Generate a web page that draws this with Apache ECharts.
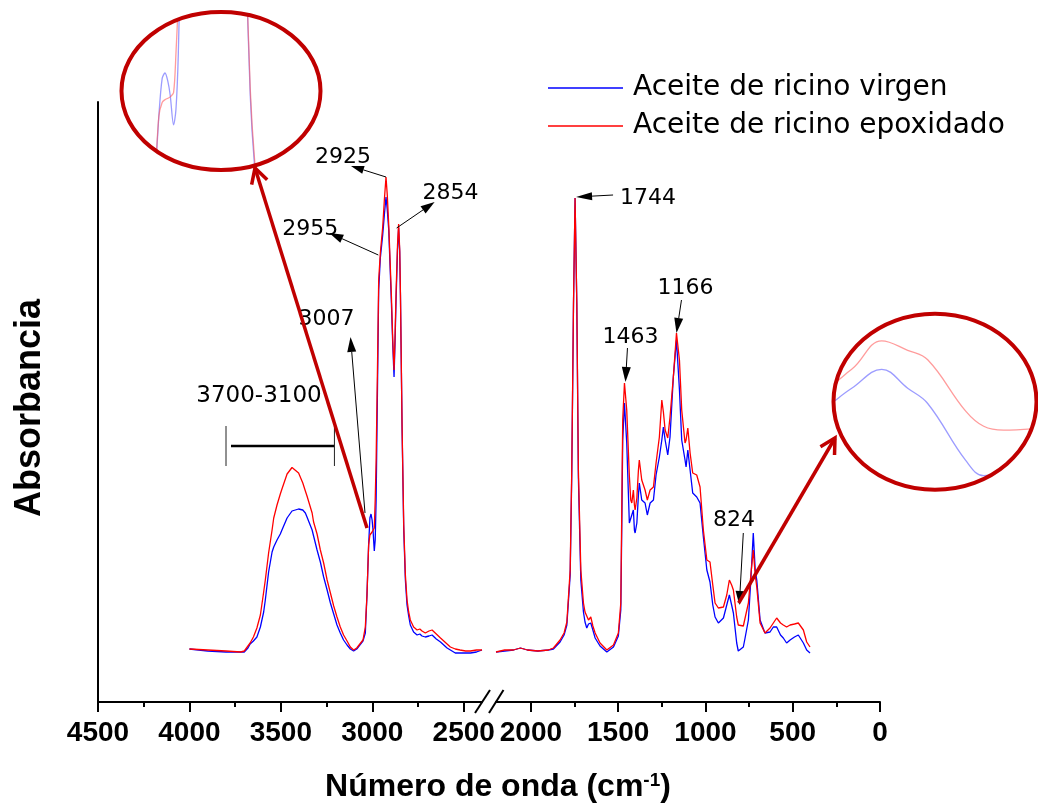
<!DOCTYPE html>
<html><head><meta charset="utf-8">
<script src="https://cdn.jsdelivr.net/npm/echarts@6/dist/echarts.min.js"></script>
<style>html,body{margin:0;padding:0;background:#fff}#main{width:1038px;height:809px}</style>
</head><body><div id="main"></div>
<script>
// ---------------- DATA ----------------
const seriesNames = ['Aceite de ricino virgen', 'Aceite de ricino epoxidado'];

const leftWn = [4000,3900,3800,3720,3700,3680,3668,3650,3631,3612,3594,3585,3567,3548,3539,3521,3503,3494,3466,3439,3430,3403,3380,3366,3357,3329,3321,3302,3284,3266,3247,3229,3211,3193,3175,3157,3138,3120,3102,3085,3075,3051,3038,3029,3020,3013,3007,3001,2996,2989,2984,2979,2971,2965,2956,2943,2934,2925,2918,2910,2896,2888,2881,2876,2870,2862,2856,2850,2846,2837,2828,2819,2810,2801,2792,2774,2755,2740,2728,2710,2690,2673,2650,2627,2591,2573,2546,2520,2490,2463,2430,2400];
const leftVirgen = [0.106,0.102,0.100,0.100,0.100,0.108,0.116,0.122,0.130,0.150,0.180,0.204,0.260,0.300,0.310,0.324,0.336,0.344,0.368,0.382,0.384,0.386,0.384,0.378,0.370,0.344,0.332,0.304,0.280,0.250,0.224,0.198,0.176,0.154,0.138,0.124,0.114,0.106,0.102,0.106,0.110,0.122,0.138,0.214,0.314,0.368,0.376,0.364,0.344,0.302,0.324,0.404,0.644,0.824,0.888,0.934,0.974,1.010,0.984,0.944,0.804,0.714,0.650,0.714,0.804,0.904,0.948,0.900,0.814,0.544,0.344,0.244,0.194,0.172,0.154,0.140,0.134,0.136,0.132,0.130,0.132,0.134,0.126,0.120,0.108,0.104,0.098,0.098,0.098,0.098,0.100,0.104];
const leftEpox = [0.106,0.104,0.102,0.100,0.102,0.112,0.118,0.130,0.148,0.174,0.220,0.244,0.298,0.344,0.368,0.394,0.416,0.426,0.456,0.469,0.468,0.458,0.438,0.422,0.412,0.378,0.360,0.336,0.304,0.278,0.244,0.218,0.192,0.170,0.150,0.134,0.122,0.110,0.104,0.108,0.112,0.124,0.150,0.214,0.314,0.334,0.338,0.340,0.342,0.348,0.404,0.484,0.684,0.844,0.898,0.950,1.004,1.050,1.014,0.954,0.818,0.724,0.664,0.724,0.818,0.914,0.956,0.904,0.818,0.550,0.354,0.254,0.204,0.180,0.164,0.150,0.144,0.146,0.142,0.138,0.142,0.144,0.136,0.128,0.116,0.110,0.106,0.104,0.102,0.102,0.104,0.104];

const rightWn = [2200,2150,2100,2060,2020,1960,1900,1871,1833,1810,1794,1775,1766,1756,1747,1737,1728,1714,1699,1690,1680,1670,1657,1645,1632,1604,1565,1527,1499,1485,1479,1474,1464,1451,1436,1428,1422,1413,1407,1403,1393,1384,1379,1365,1346,1333,1317,1298,1283,1264,1250,1241,1231,1216,1203,1184,1166,1149,1136,1117,1111,1101,1088,1073,1050,1031,1012,992,974,958,945,926,897,878,863,850,840,821,812,802,783,773,754,740,726,715,706,687,659,630,611,592,570,554,535,515,490,468,458,439,420,401];
const rightVirgen = [0.100,0.102,0.104,0.108,0.104,0.102,0.104,0.106,0.120,0.134,0.154,0.254,0.454,0.794,1.008,0.794,0.448,0.244,0.180,0.160,0.148,0.156,0.158,0.144,0.128,0.112,0.100,0.110,0.132,0.184,0.364,0.524,0.598,0.518,0.358,0.354,0.374,0.384,0.344,0.338,0.358,0.414,0.438,0.404,0.398,0.374,0.398,0.404,0.454,0.490,0.524,0.550,0.524,0.494,0.530,0.650,0.724,0.624,0.524,0.484,0.470,0.504,0.464,0.418,0.410,0.398,0.330,0.264,0.240,0.194,0.170,0.158,0.168,0.194,0.214,0.194,0.178,0.118,0.102,0.104,0.110,0.128,0.164,0.244,0.338,0.264,0.244,0.164,0.138,0.140,0.150,0.150,0.134,0.128,0.118,0.124,0.130,0.134,0.130,0.118,0.104,0.098];
const rightEpox = [0.100,0.104,0.104,0.108,0.104,0.102,0.104,0.108,0.124,0.138,0.160,0.264,0.464,0.798,1.008,0.798,0.464,0.264,0.198,0.180,0.172,0.164,0.170,0.152,0.138,0.118,0.104,0.114,0.138,0.198,0.398,0.564,0.638,0.584,0.452,0.404,0.398,0.424,0.394,0.384,0.408,0.464,0.484,0.444,0.424,0.404,0.424,0.430,0.478,0.530,0.604,0.580,0.544,0.528,0.570,0.650,0.738,0.684,0.584,0.518,0.524,0.548,0.498,0.458,0.454,0.430,0.344,0.284,0.280,0.234,0.198,0.188,0.190,0.214,0.244,0.234,0.224,0.170,0.154,0.150,0.152,0.154,0.198,0.254,0.304,0.254,0.230,0.158,0.138,0.148,0.158,0.168,0.158,0.154,0.150,0.154,0.156,0.158,0.158,0.144,0.120,0.110];

const leftTicks = [4500, 4000, 3500, 3000, 2500];
const leftMinorTicks = [4250, 3750, 3250, 2750];
const rightTicks = [2000, 1500, 1000, 500, 0];
const rightMinorTicks = [1750, 1250, 750, 250];
const rangeLabel = '3700-3100';

// ---------------- CHART ----------------
const BLUE = '#0000FF', RED = '#FF0000', DARKRED = '#C00000';
const mk = (wn, v) => wn.map((w, i) => [w, v[i]]);
const valAt = (wn, v, w) => v[wn.indexOf(w)];

// zoom-callout ellipses (decoration layout)
const E1 = {cx: 221, cy: 91, rx: 99.5, ry: 79};
const E2 = {cx: 935, cy: 401.7, rx: 101.5, ry: 88};

const tickLabelStyle = {color: '#000', fontSize: 28, fontWeight: 'bold', fontFamily: 'Liberation Sans, Arial, sans-serif', margin: 17, formatter: v => String(v)};
const mainX = (grid, min, max, ticks) => ({
  gridIndex: grid, type: 'value', inverse: true, min: min, max: max, position: 'bottom',
  axisLine: {show: true, onZero: false, lineStyle: {color: '#000', width: 2}},
  axisTick: {show: true, customValues: ticks, length: 10, lineStyle: {color: '#000', width: 2}},
  axisLabel: Object.assign({customValues: ticks}, tickLabelStyle),
  splitLine: {show: false}
});
const minorX = (grid, min, max, ticks) => ({
  gridIndex: grid, type: 'value', inverse: true, min: min, max: max, position: 'bottom',
  axisLine: {show: false},
  axisTick: {show: true, customValues: ticks, length: 5, lineStyle: {color: '#000', width: 2}},
  axisLabel: {show: false}, splitLine: {show: false}
});
const hiddenAxis = (grid, min, max, inv) => ({gridIndex: grid, type: 'value', min: min, max: max, inverse: !!inv, show: false, splitLine: {show: false}});

const xAxis0 = mainX(0, 2400, 4500, leftTicks);
Object.assign(xAxis0, {
  name: 'Número de onda (cm{sup|-1})', nameLocation: 'middle', nameGap: 69,
  nameTextStyle: {
    color: '#000', fontSize: 32, fontWeight: 'bold', fontFamily: 'Liberation Sans, Arial, sans-serif',
    padding: [0, 0, 0, 416],
    rich: {sup: {fontSize: 19, fontWeight: 'bold', fontFamily: 'Liberation Sans, Arial, sans-serif', color: '#000', verticalAlign: 'top', padding: [0, 0, 14, 0]}}
  }
});

const lineSeries = (name, xi, yi, data, color, width, extra) => Object.assign({
  name: name, type: 'line', xAxisIndex: xi, yAxisIndex: yi, data: data,
  showSymbol: false, symbol: 'none', color: color, clip: true,
  lineStyle: {width: width, color: color}, emphasis: {disabled: true}
}, extra || {});

const option = {
  animation: false,
  backgroundColor: '#ffffff',
  legend: {
    data: seriesNames, orient: 'vertical', left: 548, top: 74, padding: 0,
    icon: 'rect', itemWidth: 75, itemHeight: 1.5, itemGap: 10,
    textStyle: {color: '#000', fontSize: 28, fontFamily: 'DejaVu Sans, sans-serif', padding: [0, 0, 0, 5]}
  },
  grid: [
    {left: 98, top: 102, width: 384, height: 600},
    {left: 496, top: 102, width: 384, height: 600},
    {left: 121, top: 12, width: 200, height: 158},
    {left: 833, top: 313, width: 204, height: 177}
  ],
  xAxis: [
    xAxis0,
    minorX(0, 2400, 4500, leftMinorTicks),
    mainX(1, 0, 2200, rightTicks),
    minorX(1, 0, 2200, rightMinorTicks),
    hiddenAxis(2, 2679.4, 3099.4, true),
    hiddenAxis(3, 785.35, 887.35, true)
  ],
  yAxis: [
    {gridIndex: 0, type: 'value', min: 0, max: 1.2,
     axisLine: {show: true, onZero: false, lineStyle: {color: '#000', width: 2}},
     axisTick: {show: false}, axisLabel: {show: false}, splitLine: {show: false},
     name: 'Absorbancia', nameLocation: 'middle', nameGap: 50,
     nameTextStyle: {color: '#000', fontSize: 36, fontWeight: 'bold', fontFamily: 'Liberation Sans, Arial, sans-serif', padding: [0, 12, 0, 0]}},
    hiddenAxis(1, 0, 1.2),
    hiddenAxis(2, 0.2379, 0.4628),
    hiddenAxis(3, 0.0869, 0.2733)
  ],
  series: [
    lineSeries(seriesNames[0], 0, 0, mk(leftWn, leftVirgen), BLUE, 1.3),
    lineSeries(seriesNames[1], 0, 0, mk(leftWn, leftEpox), RED, 1.3),
    lineSeries(seriesNames[0], 2, 1, mk(rightWn, rightVirgen), BLUE, 1.3),
    lineSeries(seriesNames[1], 2, 1, mk(rightWn, rightEpox), RED, 1.3),
    lineSeries('detalle virgen 3007', 4, 2, mk(leftWn, leftVirgen), 'rgba(90,90,255,0.6)', 1.3, {smooth: 0.3}),
    lineSeries('detalle epoxidado 3007', 4, 2, mk(leftWn, leftEpox), 'rgba(255,90,90,0.6)', 1.3, {smooth: 0.3}),
    lineSeries('detalle virgen 824', 5, 3, mk(rightWn, rightVirgen), 'rgba(90,90,255,0.6)', 1.3, {smooth: 0.4}),
    lineSeries('detalle epoxidado 824', 5, 3, mk(rightWn, rightEpox), 'rgba(255,90,90,0.6)', 1.3, {smooth: 0.4})
  ]
};

const chart = echarts.init(document.getElementById('main'), null, {renderer: 'canvas'});
chart.setOption(option);

// ---------------- ANNOTATIONS ----------------
const pL = (w, a) => chart.convertToPixel({seriesIndex: 0}, [w, a]);
const pR = (w, a) => chart.convertToPixel({seriesIndex: 2}, [w, a]);
const add = (p, d) => [p[0] + d[0], p[1] + d[1]];
const els = [];
const TXT = '22px "DejaVu Sans", sans-serif';

function text(str, pos, font) {
  els.push({type: 'text', x: pos[0], y: pos[1], z: 100,
    style: {text: str, font: font || TXT, fill: '#000', textAlign: 'center', textVerticalAlign: 'middle', align: 'center', verticalAlign: 'middle'}});
}
function blackArrow(t, h, hl, hw) {
  hl = hl || 14; hw = hw || 4.2;
  const dx = h[0] - t[0], dy = h[1] - t[1], L = Math.hypot(dx, dy), ux = dx / L, uy = dy / L;
  const bx = h[0] - ux * hl, by = h[1] - uy * hl;
  els.push({type: 'line', z: 100, shape: {x1: t[0], y1: t[1], x2: bx, y2: by}, style: {stroke: '#000', lineWidth: 1}});
  els.push({type: 'polygon', z: 100, shape: {points: [[h[0], h[1]], [bx - uy * hw, by + ux * hw], [bx + uy * hw, by - ux * hw]]}, style: {fill: '#000'}});
}
function redArrow(t, h) {
  const dx = h[0] - t[0], dy = h[1] - t[1], L = Math.hypot(dx, dy), ux = dx / L, uy = dy / L;
  els.push({type: 'line', z: 101, shape: {x1: t[0], y1: t[1], x2: h[0], y2: h[1]}, style: {stroke: DARKRED, lineWidth: 3.5}});
  const al = 17, ang = 0.5;
  const c = Math.cos(ang), s = Math.sin(ang);
  const a1 = [h[0] - al * (ux * c - uy * s), h[1] - al * (uy * c + ux * s)];
  const a2 = [h[0] - al * (ux * c + uy * s), h[1] - al * (uy * c - ux * s)];
  els.push({type: 'polyline', z: 101, shape: {points: [a1, h, a2]}, style: {stroke: DARKRED, lineWidth: 3.5, fill: null}});
}
// white mask: grid rectangle minus the ellipse (one polygon with a reversed inner ring)
function ellipseMask(r, e) {
  const x0 = r[0] - 2, y0 = r[1] - 2, x1 = r[2] + 2, y1 = r[3] + 2;
  const pts = [[x0, y0], [x1, y0], [x1, y1], [x0, y1], [x0, e.cy]];
  const N = 120;
  for (let k = 0; k <= N; k++) {
    const t = Math.PI - 2 * Math.PI * k / N;
    pts.push([e.cx + e.rx * Math.cos(t), e.cy + e.ry * Math.sin(t)]);
  }
  pts.push([x0, e.cy]);
  els.push({type: 'polygon', z: 99, shape: {points: pts}, style: {fill: '#ffffff', stroke: null}});
}

// peak labels
const a2925 = pL(2925, valAt(leftWn, leftEpox, 2925));
blackArrow(a2925, add(a2925, [-35, -11]), 13, 4);
text('2925', add(a2925, [-43, -20]));

const a2854 = pL(2856, valAt(leftWn, leftEpox, 2856));
blackArrow(add(a2854, [-2, 4]), add(a2854, [36, -22]), 14, 4.5);
text('2854', add(a2854, [52, -31]));

const a2955 = pL(2956, valAt(leftWn, leftEpox, 2956));
blackArrow(add(a2955, [-2, 2]), add(a2955, [-51, -20]), 14, 4.5);
text('2955', add(a2955, [-70, -24]));

const a3007 = pL(3007, valAt(leftWn, leftVirgen, 3007));
blackArrow(add(a3007, [-6, -1]), add(a3007, [-20.5, -177]), 15, 4.5);
text('3007', add(a3007, [-44.5, -195]));

const a1744 = pR(1747, valAt(rightWn, rightEpox, 1747));
blackArrow(add(a1744, [38, -3]), add(a1744, [1, -1]), 16, 4);
text('1744', add(a1744, [73, 0]));

const a1463 = pR(1464, valAt(rightWn, rightEpox, 1464));
blackArrow(add(a1463, [3, -35]), add(a1463, [1, -1]), 15, 4.5);
text('1463', add(a1463, [6, -46]));

const a1166 = pR(1166, valAt(rightWn, rightEpox, 1166));
blackArrow(add(a1166, [5, -33]), add(a1166, [0, 0]), 15, 4.5);
text('1166', add(a1166, [9, -45]));

const a824 = pR(821, valAt(rightWn, rightEpox, 821));
blackArrow(add(a824, [6.6, -84]), add(a824, [2.6, -12]), 14, 4.5);
text('824', add(a824, [-2.7, -97]));

// 3700-3100 bracket
const bx1 = pL(3800, 0)[0], bx2 = pL(3207, 0)[0];
els.push({type: 'line', z: 100, shape: {x1: bx1 + 5, y1: 446, x2: bx2, y2: 446}, style: {stroke: '#000', lineWidth: 2.5}});
els.push({type: 'line', z: 100, shape: {x1: bx1, y1: 426, x2: bx1, y2: 466}, style: {stroke: '#222', lineWidth: 1}});
els.push({type: 'line', z: 100, shape: {x1: bx2, y1: 426, x2: bx2, y2: 466}, style: {stroke: '#222', lineWidth: 1}});
text(rangeLabel, [259, 396], '23px "DejaVu Sans", sans-serif');

// zoom ellipses with masks
ellipseMask([121, 12, 321, 170], E1);
ellipseMask([833, 313, 1037, 490], E2);
els.push({type: 'ellipse', z: 102, shape: E1, style: {fill: null, stroke: DARKRED, lineWidth: 4}});
els.push({type: 'ellipse', z: 102, shape: E2, style: {fill: null, stroke: DARKRED, lineWidth: 4}});

// red callout arrows
redArrow(add(a3007, [-4, 14]), [255, 168]);
redArrow(add(a824, [2, -14]), [835, 438]);

// axis break marks
els.push({type: 'line', z: 100, shape: {x1: 475, y1: 713, x2: 490, y2: 690}, style: {stroke: '#000', lineWidth: 2}});
els.push({type: 'line', z: 100, shape: {x1: 489, y1: 713, x2: 503.5, y2: 690}, style: {stroke: '#000', lineWidth: 2}});

chart.setOption({graphic: {elements: els}});
</script>
</body></html>
